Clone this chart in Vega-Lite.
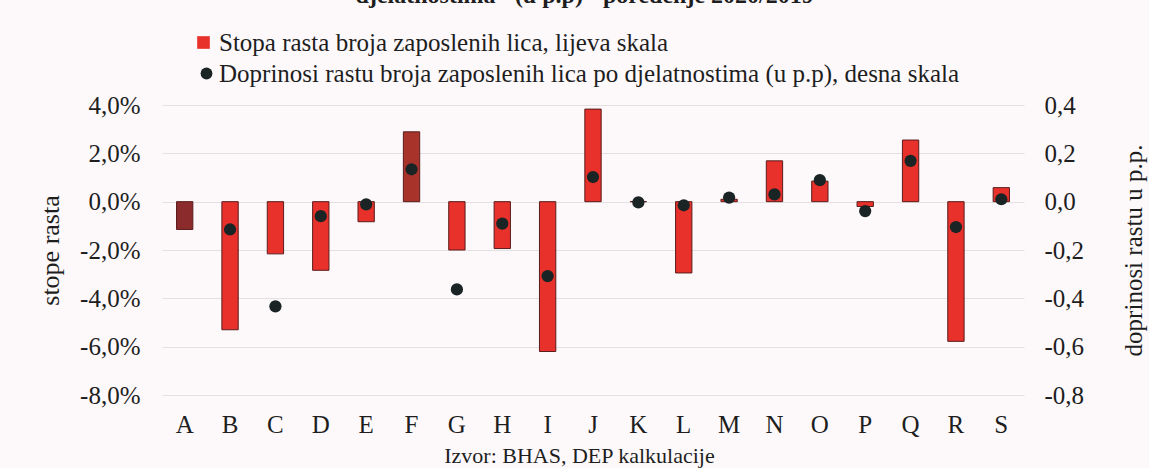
{
  "$schema": "https://vega.github.io/schema/vega-lite/v6.json",
  "width": 862,
  "height": 290,
  "autosize": {"type": "none"},
  "padding": {"left": 162, "top": 105, "right": 125, "bottom": 73},
  "background": "#fdf9fb",
  "config": {
    "locale": {"number": {"decimal": ",", "thousands": ".", "grouping": [3], "currency": ["", " KM"], "minus": "-"}},
    "font": "Times New Roman, Liberation Serif, serif",
    "view": {"stroke": null},
    "axis": {
      "labelFont": "Times New Roman, Liberation Serif, serif",
      "titleFont": "Times New Roman, Liberation Serif, serif",
      "labelColor": "#1e1e1e",
      "titleColor": "#1e1e1e",
      "labelFontSize": 25,
      "titleFontSize": 25,
      "titleFontWeight": "normal",
      "domain": false,
      "ticks": false
    },
    "legend": {
      "labelFont": "Times New Roman, Liberation Serif, serif",
      "labelFontSize": 25,
      "labelColor": "#1e1e1e",
      "padding": 0,
      "labelLimit": 1000
    }
  },
  "title": {
    "text": "\"djelatnostima\" (u p.p) - poređenje 2020/2019",
    "font": "Times New Roman, Liberation Serif, serif",
    "fontSize": 24,
    "fontWeight": "bold",
    "color": "#1e1e1e",
    "anchor": "middle",
    "frame": "group",
    "dx": -15,
    "offset": 22
  },
  "data": {
    "values": [
      {"k": "A", "stopa": -0.0115, "doprinos": null},
      {"k": "B", "stopa": -0.053, "doprinos": -0.115},
      {"k": "C", "stopa": -0.0216, "doprinos": -0.433},
      {"k": "D", "stopa": -0.0284, "doprinos": -0.06},
      {"k": "E", "stopa": -0.0083, "doprinos": -0.011},
      {"k": "F", "stopa": 0.0289, "doprinos": 0.134},
      {"k": "G", "stopa": -0.02, "doprinos": -0.363},
      {"k": "H", "stopa": -0.0194, "doprinos": -0.091},
      {"k": "I", "stopa": -0.062, "doprinos": -0.308},
      {"k": "J", "stopa": 0.0383, "doprinos": 0.102},
      {"k": "K", "stopa": 0, "doprinos": -0.003},
      {"k": "L", "stopa": -0.0295, "doprinos": -0.015},
      {"k": "M", "stopa": 0.001, "doprinos": 0.017},
      {"k": "N", "stopa": 0.0169, "doprinos": 0.03},
      {"k": "O", "stopa": 0.0085, "doprinos": 0.089},
      {"k": "P", "stopa": -0.002, "doprinos": -0.039},
      {"k": "Q", "stopa": 0.0255, "doprinos": 0.169},
      {"k": "R", "stopa": -0.0578, "doprinos": -0.105},
      {"k": "S", "stopa": 0.0058, "doprinos": 0.01}
    ]
  },
  "layer": [
    {
      "mark": {"type": "bar", "stroke": "#5a1c1c", "strokeWidth": 1},
      "encoding": {
        "x": {
          "field": "k",
          "type": "nominal",
          "sort": null,
          "scale": {"paddingInner": 0.64, "paddingOuter": 0.32},
          "axis": {
            "labelAngle": 0,
            "labelPadding": 17,
            "title": "Izvor: BHAS, DEP kalkulacije",
            "titleFontSize": 22,
            "titlePadding": 8,
            "titleX": 417
          }
        },
        "y": {
          "field": "stopa",
          "type": "quantitative",
          "scale": {"domain": [-0.08, 0.04], "nice": false, "zero": false},
          "axis": {
            "values": [-0.08, -0.06, -0.04, -0.02, 0, 0.02, 0.04],
            "format": ".1%",
            "title": "stope rasta",
            "titleFontSize": 26,
            "grid": true,
            "gridColor": "#e4dfe0",
            "gridWidth": 1.2,
            "labelPadding": 22,
            "titlePadding": 16
          }
        },
        "color": {
          "condition": [
            {"test": "datum.k === 'A'", "value": "#8c2b2b"},
            {"test": "datum.k === 'F'", "value": "#a8332b"}
          ],
          "datum": "Stopa rasta broja zaposlenih lica, lijeva skala",
          "scale": {"range": ["#e8312b"]},
          "legend": {
            "title": null,
            "orient": "none",
            "legendX": 29,
            "legendY": -75,
            "symbolType": "square",
            "symbolSize": 160,
            "symbolStrokeWidth": 0,
            "labelOffset": 3
          }
        }
      }
    },
    {
      "mark": {"type": "point", "filled": true, "size": 150, "opacity": 1},
      "encoding": {
        "x": {"field": "k", "type": "nominal", "sort": null},
        "y": {
          "field": "doprinos",
          "type": "quantitative",
          "scale": {"domain": [-0.8, 0.4], "nice": false, "zero": false},
          "axis": {
            "orient": "right",
            "values": [-0.8, -0.6, -0.4, -0.2, 0, 0.2, 0.4],
            "format": ".1f",
            "title": "doprinosi rastu u p.p.",
            "titleAngle": -90,
            "grid": false,
            "labelPadding": 20,
            "titlePadding": 63
          }
        },
        "color": {
          "datum": "Doprinosi rastu broja zaposlenih lica po djelatnostima (u p.p), desna skala",
          "scale": {"range": ["#1b2424"]},
          "legend": {
            "title": null,
            "orient": "none",
            "legendX": 32,
            "legendY": -44,
            "symbolType": "circle",
            "symbolSize": 140,
            "labelOffset": 0
          }
        }
      }
    }
  ],
  "resolve": {"scale": {"y": "independent", "color": "independent"}}
}
